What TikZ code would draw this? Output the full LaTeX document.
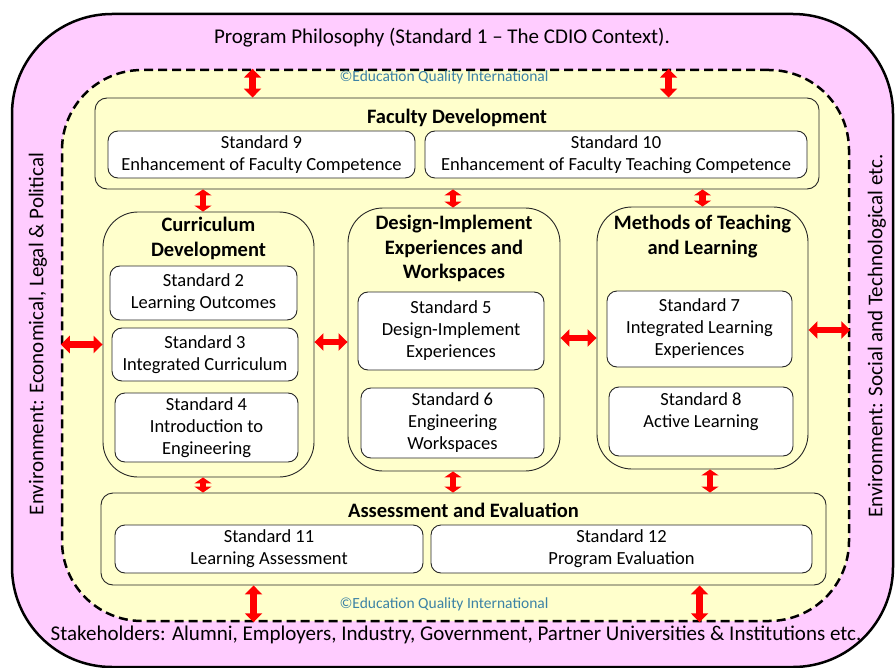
\documentclass[tikz,border=0pt]{standalone}
\usepackage{fontspec}
\setmainfont{Carlito}
\usetikzlibrary{arrows.meta,fit}
\definecolor{pinkbg}{RGB}{255,204,255}
\definecolor{yelbg}{RGB}{255,255,204}
\definecolor{copyteal}{RGB}{60,130,165}

\begin{document}
\begin{tikzpicture}[x=1pt, y=-1pt,
    grp/.style={draw=black!85, fill=yelbg, line width=0.9pt, rounded corners=#1, inner sep=0pt},
    grp/.default=12pt,
    std/.style={draw=black!85, fill=white, line width=0.9pt, rounded corners=10pt, inner sep=0pt,
        align=center, font=\fontsize{18.5}{22}\selectfont},
    sz/.style args={#1x#2}{minimum width=#1pt, minimum height=#2pt},
    ttl/.style={font=\bfseries\fontsize{20.5}{24.5}\selectfont, align=center},
    big/.style={font=\fontsize{21}{24}\selectfont},
    dbl/.style={red, line width=6.5pt, {Triangle[width=17pt,length=#1]}-{Triangle[width=17pt,length=#1]}},
    dbl/.default=9pt,
    cpy/.style={text=copyteal, font=\fontsize{15.5}{18}\selectfont}]
    \useasboundingbox (0,0) rectangle (896,668);

    % frames
    \node[draw, fill=pinkbg, line width=2.5pt, rounded corners=100pt, inner sep=0pt,
        fit={(12,14) (893,667)}] (outer) {};
    \node[draw, fill=yelbg, line width=2.5pt, dash pattern=on 9pt off 5pt, rounded corners=80pt,
        inner sep=0pt, fit={(62,70) (849,621)}] (frame) {};

    \node[big] (phil) at (442,38) {Program Philosophy (Standard 1 -- The CDIO Context).};
    \node[big] (stake) at (456,635) {Stakeholders: Alumni, Employers, Industry, Government, Partner Universities \& Institutions etc.};
    \node[big, rotate=90] (envl) at (38,334) {Environment: Economical, Legal \& Political};
    \node[big, rotate=90] (envr) at (877,336) {Environment: Social and Technological etc.};
    \node[cpy] (cpt) at (444,77) {\textcopyright Education Quality International};
    \node[cpy] (cpb) at (444,604) {\textcopyright Education Quality International};

    % group boxes
    \node[grp, fit={(95,98) (819,189)}] (fac) {};
    \node[grp=35pt, fit={(103,212) (314,477)}] (cur) {};
    \node[grp=35pt, fit={(348,208) (560,471)}] (des) {};
    \node[grp=35pt, fit={(597,207) (808,469)}] (met) {};
    \node[grp, fit={(101,493) (826,585)}] (ass) {};

    \node[ttl] at ([yshift=-20pt]fac.north) {Faculty Development};
    \node[ttl] at ([yshift=-27pt]cur.north) {Curriculum\\Development};
    \node[ttl] at ([yshift=-41pt]des.north) {Design-Implement\\Experiences and\\Workspaces};
    \node[ttl] at ([yshift=-30pt]met.north) {Methods of Teaching\\and Learning};
    \node[ttl] at ([yshift=-18pt]ass.north) {Assessment and Evaluation};

    % standards
    \node[std, sz=307x47] (s9) at (261.5,154.5) {Standard 9\\Enhancement of Faculty Competence};
    \node[std, sz=382x47] (s10) at (616,154.5) {Standard 10\\Enhancement of Faculty Teaching Competence};
    \node[std, sz=187x54] (s2) at (203.5,293) {Standard 2\\Learning Outcomes};
    \node[std, sz=186x53] (s3) at (205,354.5) {Standard 3\\Integrated Curriculum};
    \node[std, sz=183x69] (s4) at (206.5,427.5) {Standard 4\\Introduction to\\Engineering};
    \node[std, sz=186x78] (s5) at (451,331) {Standard 5\\Design-Implement\\Experiences};
    \node[std, sz=183x70] (s6) at (452.5,423) {Standard 6\\Engineering\\Workspaces};
    \node[std, sz=185x76] (s7) at (699.5,329) {Standard 7\\Integrated Learning\\Experiences};
    \node[std, sz=184x69] (s8) at (701,421.5) {Standard 8\\Active Learning\\\mbox{}};
    \node[std, sz=308x48] (s11) at (269,549) {Standard 11\\Learning Assessment};
    \node[std, sz=381x48] (s12) at (621.5,549) {Standard 12\\Program Evaluation};

    % links
    \draw[dbl] ([xshift=158pt]fac.north west |- frame.north) -- ([xshift=158pt]fac.north west);
    \draw[dbl] ([xshift=574pt]fac.north west |- frame.north) -- ([xshift=574pt]fac.north west);
    \draw[dbl=6pt] ([xshift=-5.5pt]cur.north |- fac.south) -- ([xshift=-5.5pt]cur.north);
    \draw[dbl=6pt] ([xshift=-1pt]des.north |- fac.south) -- ([xshift=-1pt]des.north);
    \draw[dbl=6pt] (met.north |- fac.south) -- (met.north);
    \draw[dbl=6pt] ([xshift=-5.5pt]cur.south) -- ([xshift=-5.5pt]cur.south |- ass.north);
    \draw[dbl=6pt] ([xshift=-1pt]des.south) -- ([xshift=-1pt]des.south |- ass.north);
    \draw[dbl=6pt] ([xshift=7.5pt]met.south) -- ([xshift=7.5pt]met.south |- ass.north);
    \draw[dbl] ([xshift=153pt]ass.south west) -- ([xshift=153pt]ass.south west |- frame.south);
    \draw[dbl] ([xshift=599pt]ass.south west) -- ([xshift=599pt]ass.south west |- frame.south);
    \draw[dbl] (frame.west |- cur.center) -- (cur.west);
    \draw[dbl] ([yshift=2.5pt]cur.east) -- ([yshift=2.5pt]cur.east -| des.west);
    \draw[dbl] ([yshift=1.5pt]des.east) -- ([yshift=1.5pt]des.east -| met.west);
    \draw[dbl] ([yshift=8pt]met.east) -- ([yshift=8pt]met.east -| frame.east);
\end{tikzpicture}
\end{document}
